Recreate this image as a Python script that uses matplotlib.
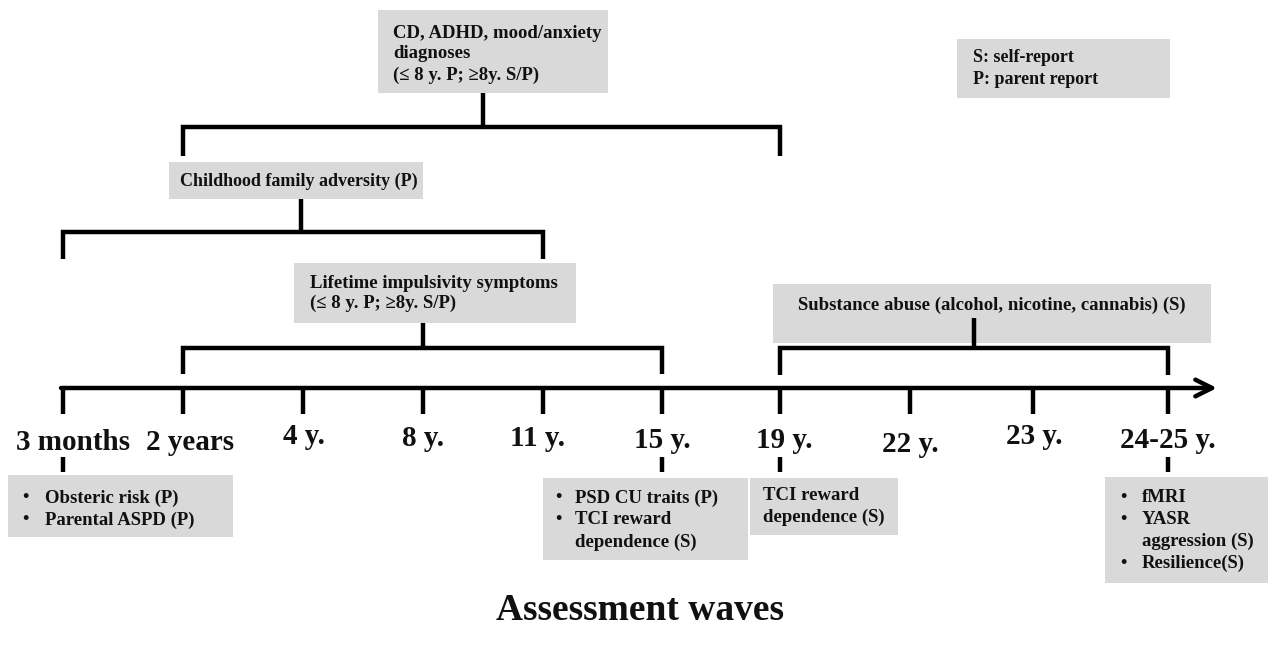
import matplotlib
matplotlib.use("Agg")
import matplotlib.pyplot as plt
from matplotlib.patches import Rectangle

# Assessment waves along the timeline
waves = ["3 months", "2 years", "4 y.", "8 y.", "11 y.", "15 y.", "19 y.", "22 y.", "23 y.", "24-25 y."]

# Measures spanning several waves (label lines, first wave, last wave)
span_measures = {
    "cd": ["CD, ADHD, mood/anxiety", "diagnoses", "(≤ 8 y. P; ≥8y. S/P)"],
    "family": ["Childhood family adversity (P)"],
    "impulsivity": ["Lifetime impulsivity symptoms", "(≤ 8 y. P; ≥8y. S/P)"],
    "substance": ["Substance abuse (alcohol, nicotine, cannabis) (S)"],
}
span_waves = {
    "cd": ("2 years", "19 y."),
    "family": ("3 months", "11 y."),
    "impulsivity": ("2 years", "15 y."),
    "substance": ("19 y.", "24-25 y."),
}

# Measures taken at a single wave
wave_measures = {
    "3 months": ["Obsteric risk (P)", "Parental ASPD (P)"],
    "15 y.": ["PSD CU traits (P)", "TCI reward", "dependence (S)"],
    "19 y.": ["TCI reward", "dependence (S)"],
    "24-25 y.": ["fMRI", "YASR", "aggression (S)", "Resilience(S)"],
}
wave_bullets = {
    "3 months": [True, True],
    "15 y.": [True, True, False],
    "19 y.": [False, False],
    "24-25 y.": [True, True, False, True],
}

legend_lines = ["S: self-report", "P: parent report"]
xlabel = "Assessment waves"

# ---- layout (pixel coordinates) ----
wave_x = [63, 183, 303, 423, 543, 662, 780, 910, 1033, 1168]
label_dx = [10, 7, 1, 0, -5, 0, 4, 0, 1, 0]
label_y = [442, 443, 436, 439, 439, 440, 440, 444, 437, 441]
xpos = dict(zip(waves, wave_x))

grey = "#d9d9d9"
ink = "#111111"
lw = 3.2
serif = ["Liberation Serif", "DejaVu Serif"]

fig = plt.figure(figsize=(12.84, 6.45), dpi=100)
ax = fig.add_axes([0, 0, 1, 1])
ax.set_xlim(0, 1284)
ax.set_ylim(645, 0)
ax.axis("off")


def box(x0, y0, x1, y1):
    ax.add_patch(Rectangle((x0, y0), x1 - x0, y1 - y0, facecolor=grey, edgecolor="none", zorder=1))


def txt(x, y, s, size=13, ha="left"):
    ax.text(x, y, s, fontsize=size, fontweight="bold", family=serif, color=ink,
            ha=ha, va="center", zorder=3)


def line(xs, ys):
    ax.plot(xs, ys, color="black", lw=lw, solid_capstyle="butt",
            solid_joinstyle="miter", zorder=2)


def bracket(key, y, drop, stem_x, stem_top):
    a, b = span_waves[key]
    xl, xr = xpos[a], xpos[b]
    line([xl, xl, xr, xr], [y + drop, y, y, y + drop])
    line([stem_x, stem_x], [stem_top, y])


# timeline axis with arrow
ax.annotate("", xy=(1217, 388), xytext=(61, 388),
            arrowprops=dict(arrowstyle="->, head_length=1.2, head_width=0.6",
                            color="black", lw=lw, shrinkA=0, shrinkB=0))
for i, w in enumerate(waves):
    line([wave_x[i], wave_x[i]], [388, 414])
    ax.text(wave_x[i] + label_dx[i], label_y[i], w, fontsize=21, fontweight="bold",
            family=serif, color=ink, ha="center", va="center")

# spanning measures
box(378, 10, 608, 93)
for j, s in enumerate(span_measures["cd"]):
    txt(393, 33 + 21 * j, s, size=13.5)
bracket("cd", 127, 29, 483, 93)

box(169, 162, 423, 199)
txt(180, 181, span_measures["family"][0])
bracket("family", 232, 27, 301, 199)

box(294, 263, 576, 323)
for j, s in enumerate(span_measures["impulsivity"]):
    txt(310, 283 + 20 * j, s, size=13.5)
bracket("impulsivity", 348, 26, 423, 323)

box(773, 284, 1211, 343)
txt(992, 305, span_measures["substance"][0], size=13.5, ha="center")
bracket("substance", 348, 27, 974, 318)

# legend
box(957, 39, 1170, 98)
for j, s in enumerate(legend_lines):
    txt(973, 58 + 22 * j, s)

# single-wave measures
boxes = {
    "3 months": (8, 475, 233, 537, 25, 45, 498),
    "15 y.": (543, 478, 748, 560, 558, 575, 498),
    "19 y.": (750, 478, 898, 535, 0, 763, 495),
    "24-25 y.": (1105, 477, 1268, 583, 1123, 1142, 497),
}
for w, items in wave_measures.items():
    x0, y0, x1, y1, bx, tx, ty = boxes[w]
    line([xpos[w], xpos[w]], [457, 472])
    box(x0, y0, x1, y1)
    for j, s in enumerate(items):
        yy = ty + 22 * j
        if wave_bullets[w][j]:
            txt(bx, yy, "•", ha="center")
        txt(tx, yy, s, size=13.5)

ax.text(640, 610, xlabel, fontsize=27, fontweight="bold", family=serif,
        color=ink, ha="center", va="center")

fig.savefig("out.png", dpi=100)
